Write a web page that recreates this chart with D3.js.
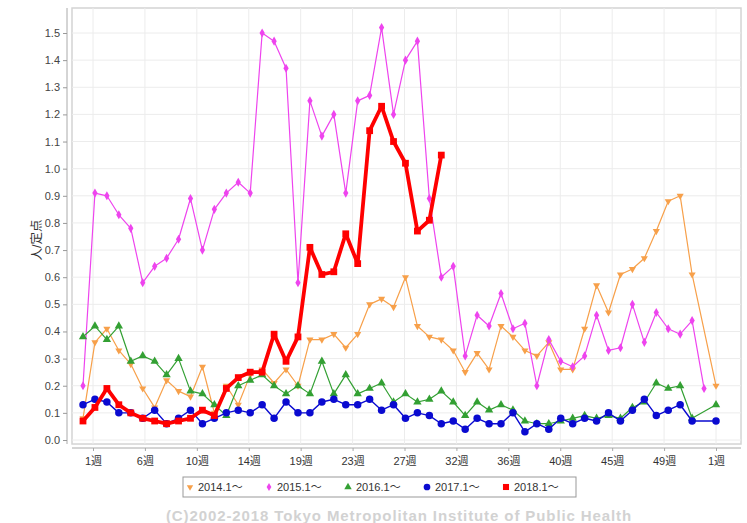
<!DOCTYPE html>
<html>
<head>
<meta charset="utf-8">
<script src="https://cdn.jsdelivr.net/npm/d3@7/dist/d3.min.js"></script>
<style>
  html, body { margin: 0; padding: 0; background: #fff; }
  svg { display: block; }
  text { font-family: "Liberation Sans", "Noto Sans CJK JP", sans-serif; }
</style>
</head>
<body>
<svg id="chart" width="747" height="523"></svg>
<script>
// ---- data ----
const weekLabels = ["1週","6週","10週","14週","19週","23週","27週","32週","36週","40週","45週","49週","1週"];
const yTicks = [0.0,0.1,0.2,0.3,0.4,0.5,0.6,0.7,0.8,0.9,1.0,1.1,1.2,1.3,1.4,1.5];
const seriesNames = ["2014.1～","2015.1～","2016.1～","2017.1～","2018.1～"];

// 54 positions: weeks 1..53 of the year plus week 1 of the following year
const s2014 = [0.08,0.36,0.41,0.33,0.28,0.19,0.12,0.22,0.18,0.16,
               0.27,0.10,0.20,0.13,0.24,0.26,0.21,0.26,0.20,0.37,
               0.37,0.39,0.34,0.39,0.50,0.52,0.49,0.60,0.42,0.38,
               0.37,0.33,0.25,0.32,0.26,0.42,0.38,0.33,0.31,0.36,
               0.26,0.26,0.41,0.57,0.47,0.61,0.63,0.67,0.77,0.88,
               0.90,0.61,null,0.20];
const s2015 = [0.20,0.91,0.90,0.83,0.78,0.58,0.64,0.67,0.74,0.89,
               0.70,0.85,0.91,0.95,0.91,1.50,1.47,1.37,0.58,1.25,
               1.12,1.20,0.91,1.25,1.27,1.52,1.20,1.40,1.47,0.89,
               0.60,0.64,0.31,0.46,0.42,0.54,0.41,0.43,0.20,0.37,
               0.29,0.27,0.31,0.46,0.33,0.34,0.50,0.36,0.47,0.41,
               0.39,0.44,0.19,null];
const s2016 = [0.38,0.42,0.37,0.42,0.29,0.31,0.29,0.24,0.30,0.18,
               0.17,0.13,0.09,0.20,0.22,0.24,0.20,0.17,0.20,0.17,
               0.29,0.17,0.24,0.17,0.19,0.21,0.14,0.17,0.14,0.15,
               0.18,0.14,0.09,0.14,0.11,0.13,0.11,0.07,0.06,0.06,
               0.07,0.08,0.09,0.08,0.09,0.08,0.12,0.14,0.21,0.19,
               0.20,0.08,null,0.13];
const s2017 = [0.13,0.15,0.14,0.10,0.10,0.08,0.11,0.06,0.08,0.11,
               0.06,0.08,0.10,0.11,0.10,0.13,0.08,0.14,0.10,0.10,
               0.14,0.15,0.13,0.13,0.15,0.11,0.13,0.08,0.10,0.09,
               0.06,0.07,0.04,0.08,0.06,0.06,0.10,0.03,0.06,0.04,
               0.08,0.06,0.08,0.07,0.10,0.07,0.11,0.15,0.09,0.11,
               0.13,0.07,null,0.07];
const s2018 = [0.07,0.12,0.19,0.13,0.10,0.08,0.07,0.06,0.07,0.08,
               0.11,0.09,0.19,0.23,0.25,0.25,0.39,0.29,0.38,0.71,
               0.61,0.62,0.76,0.65,1.14,1.23,1.10,1.02,0.77,0.81,
               1.05];

const seriesValues = [s2014, s2015, s2016, s2017, s2018];
const seriesColors = ["#f7a04a","#ee44ee","#33a033","#0a0ad0","#ff0000"];
const seriesWidths = [1.2, 1.2, 1.2, 1.4, 3.8];
const seriesShapes = [d3.symbolTriangle, d3.symbolDiamond, d3.symbolTriangle, d3.symbolCircle, d3.symbolSquare];
const seriesSizes = [22, 24, 30, 44, 46];
const seriesRot = [180, 0, 0, 0, 0];

// ---- layout ----
const svg = d3.select("#chart");
const plot = {left: 72, right: 741, top: 8, bottom: 444};

const x = d3.scaleLinear().domain([1, 54]).range([83, 716]);
const y = d3.scaleLinear().domain([0, 1.5]).range([440, 33]);
const xl = d3.scalePoint().domain(d3.range(weekLabels.length)).range([93, 716]);

// plot background + frame
svg.append("rect")
  .attr("x", plot.left).attr("y", plot.top)
  .attr("width", plot.right - plot.left).attr("height", plot.bottom - plot.top)
  .attr("fill", "#fff").attr("stroke", "#d4d4d4").attr("stroke-width", 1.5);

// horizontal gridlines
svg.append("g").selectAll("line").data(yTicks).join("line")
  .attr("x1", plot.left).attr("x2", plot.right)
  .attr("y1", d => y(d)).attr("y2", d => y(d))
  .attr("stroke", "#ececec").attr("stroke-width", 1);

// vertical gridlines
svg.append("g").selectAll("line").data(d3.range(weekLabels.length)).join("line")
  .attr("x1", d => xl(d)).attr("x2", d => xl(d))
  .attr("y1", plot.top).attr("y2", plot.bottom)
  .attr("stroke", "#ececec").attr("stroke-width", 1);

// y axis
const yAxis = d3.axisLeft(y).tickValues(yTicks).tickFormat(d3.format(".1f")).tickSize(4).tickPadding(3);
const gy = svg.append("g").attr("transform", "translate(67,0)").call(yAxis);
gy.select(".domain").attr("stroke", "#aaa").attr("d", `M0,${plot.top}V${plot.bottom}`);
gy.selectAll(".tick line").attr("stroke", "#999");
gy.selectAll(".tick text").attr("fill", "#444").attr("font-size", 11);

// x axis
const xAxis = d3.axisBottom(xl).tickFormat(i => weekLabels[i]).tickSize(3).tickPadding(6);
const gx = svg.append("g").attr("transform", "translate(0,448)").call(xAxis);
gx.select(".domain").attr("stroke", "#aaa").attr("d", `M${plot.left},0H${plot.right}`);
gx.selectAll(".tick line").attr("stroke", "#aaa");
gx.selectAll(".tick text").attr("fill", "#333").attr("font-size", 11)
  .attr("font-family", "'Noto Sans CJK JP', sans-serif");

// y axis title
svg.append("text")
  .attr("transform", "translate(41,240) rotate(-90)")
  .attr("text-anchor", "middle")
  .attr("font-size", 12.5)
  .attr("fill", "#333")
  .attr("font-family", "'Noto Sans CJK JP', sans-serif")
  .text("人/定点");

// series
const line = d3.line().x(d => x(d.w)).y(d => y(d.v));
seriesValues.forEach((vals, si) => {
  const pts = vals.map((v, i) => ({w: i + 1, v})).filter(d => d.v !== null);
  svg.append("path").datum(pts)
    .attr("d", line)
    .attr("fill", "none")
    .attr("stroke", seriesColors[si])
    .attr("stroke-width", seriesWidths[si])
    .attr("stroke-linejoin", "round");
  const sym = d3.symbol().type(seriesShapes[si]).size(seriesSizes[si]);
  svg.append("g").selectAll("path").data(pts).join("path")
    .attr("d", sym)
    .attr("transform", d => `translate(${x(d.w)},${y(d.v)}) rotate(${seriesRot[si]})`)
    .attr("fill", seriesColors[si]);
});

// legend
const legend = svg.append("g");
legend.append("rect")
  .attr("x", 183).attr("y", 477).attr("width", 393).attr("height", 20)
  .attr("fill", "#fff").attr("stroke", "#999").attr("stroke-width", 1);
const legendX = d3.scalePoint().domain(seriesNames).range([190, 506]);
seriesNames.forEach((name, si) => {
  const lx = legendX(name);
  const sym = d3.symbol().type(seriesShapes[si]).size(seriesSizes[si] * 0.8);
  legend.append("path").attr("d", sym)
    .attr("transform", `translate(${lx},487) rotate(${seriesRot[si]})`)
    .attr("fill", seriesColors[si]);
  legend.append("text")
    .attr("x", lx + 8).attr("y", 491)
    .attr("font-size", 11).attr("fill", "#333")
    .attr("font-family", "'Noto Sans CJK JP', sans-serif")
    .text(name);
});

// footer
svg.append("text")
  .attr("x", 399).attr("y", 521)
  .attr("text-anchor", "middle")
  .attr("font-size", 15).attr("font-weight", "bold")
  .attr("letter-spacing", 0.9)
  .attr("fill", "#d2d2d2")
  .text("(C)2002-2018 Tokyo Metropolitan Institute of Public Health");
</script>
</body>
</html>
